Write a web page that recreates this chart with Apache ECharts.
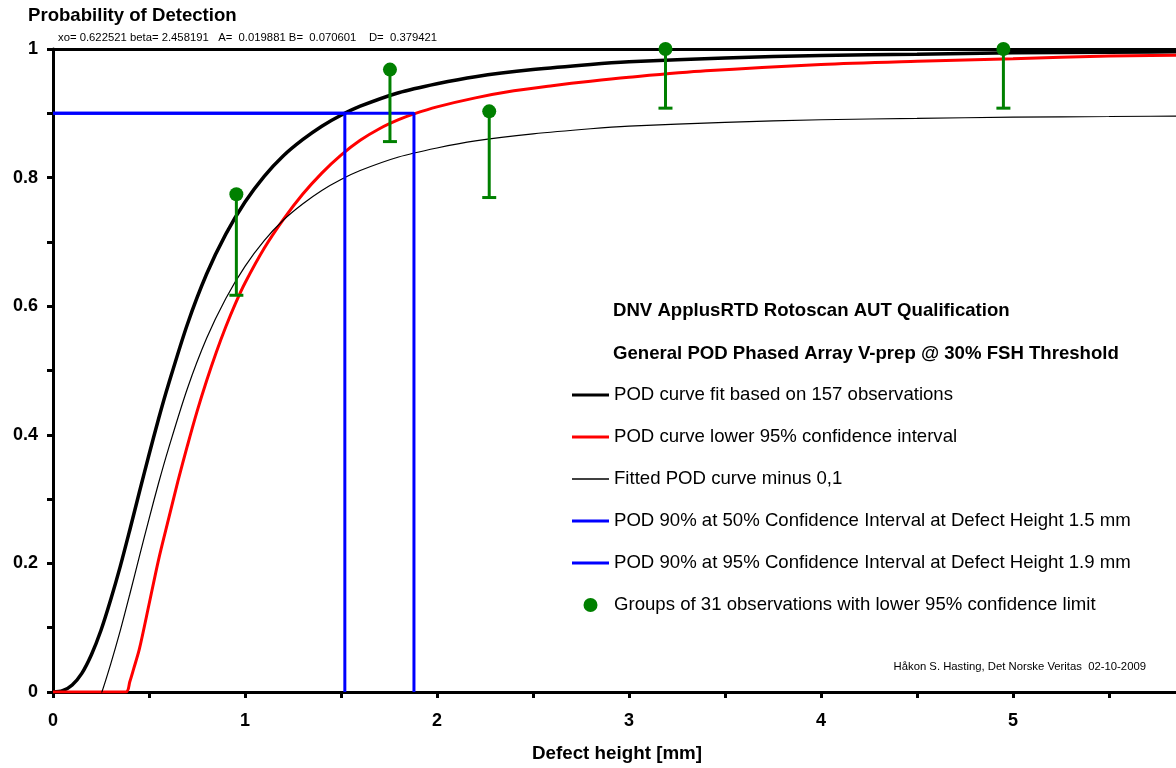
<!DOCTYPE html>
<html>
<head>
<meta charset="utf-8">
<script src="https://cdn.jsdelivr.net/npm/echarts@6/dist/echarts.min.js"></script>
<style>
  html, body { margin: 0; padding: 0; background: #ffffff; }
  #chart { width: 1176px; height: 768px; }
</style>
</head>
<body>
<div id="chart"></div>
<script>
const FONT = '"Liberation Sans", Arial, Helvetica, sans-serif';
const GREEN = '#008000';
const BLUE = '#0000ff';
const RED = '#ff0000';

// Fitted POD curve (defect height in mm -> probability of detection)
const fitHeights = [0, 0.05, 0.1, 0.15, 0.2, 0.25, 0.3, 0.35, 0.4, 0.45, 0.5, 0.55, 0.6, 0.7, 0.8, 0.9,
  1.0, 1.1, 1.2, 1.3, 1.4, 1.5, 1.6, 1.8, 2.0, 2.2, 2.5, 2.8, 3.0, 3.5, 4.0, 4.5, 5.0, 5.5, 6.0];
const podFit = [0, 0.002, 0.011, 0.029, 0.058, 0.096, 0.143, 0.195, 0.252, 0.311, 0.369, 0.425, 0.477, 0.572, 0.650, 0.712,
  0.762, 0.802, 0.834, 0.859, 0.880, 0.897, 0.911, 0.932, 0.946, 0.957, 0.968, 0.976, 0.980, 0.986, 0.990, 0.992, 0.994, 0.995, 0.996];

// Fitted POD curve shifted down by 0.1
const minusHeights = [0.2, 0.25, 0.3, 0.35, 0.4, 0.45, 0.5, 0.55, 0.6, 0.7, 0.8, 0.9,
  1.0, 1.1, 1.2, 1.3, 1.4, 1.5, 1.6, 1.8, 2.0, 2.2, 2.5, 2.8, 3.0, 3.5, 4.0, 4.5, 5.0, 5.5, 6.0];
const podFitMinus = [-0.042, -0.004, 0.043, 0.095, 0.152, 0.211, 0.269, 0.325, 0.377, 0.472, 0.550, 0.612,
  0.662, 0.702, 0.734, 0.759, 0.780, 0.797, 0.811, 0.832, 0.846, 0.857, 0.868, 0.876, 0.880, 0.886, 0.890, 0.892, 0.894, 0.895, 0.896];

// Lower 95% confidence bound of the POD curve
const lowerHeights = [0, 0.38, 0.4, 0.42, 0.45, 0.5, 0.55, 0.6, 0.65, 0.7, 0.75, 0.8, 0.85, 0.9, 0.95,
  1.0, 1.1, 1.2, 1.3, 1.4, 1.5, 1.6, 1.7, 1.8, 1.88, 2.0, 2.2, 2.4, 2.6, 2.8, 3.0, 3.4, 4.0, 4.5, 5.0, 5.5, 6.0];
const podLower95 = [0, 0, 0.016, 0.036, 0.067, 0.136, 0.206, 0.267, 0.327, 0.383, 0.436, 0.484, 0.528, 0.568, 0.604,
  0.636, 0.690, 0.735, 0.774, 0.807, 0.835, 0.858, 0.876, 0.890, 0.899, 0.910, 0.924, 0.935, 0.943, 0.950, 0.956, 0.966, 0.976, 0.981, 0.985, 0.989, 0.991];

// POD 90% defect heights
const pod90 = 0.9;
const height90at50 = 1.52;
const height90at95 = 1.88;

// Grouped observations (31 per group): mean height, observed POD, lower 95% limit
const groupHeights = [0.955, 1.755, 2.272, 3.19, 4.95];
const groupPOD = [0.774, 0.968, 0.903, 1.0, 1.0];
const groupLower = [0.617, 0.856, 0.769, 0.908, 0.908];

// Axis ticks
const xTickStep = 0.5;
const yTickStep = 0.1;

const zip = (xs, ys) => xs.map((x, i) => [x, ys[i]]);

const names = {
  fit: 'POD curve fit based on 157 observations',
  lower: 'POD curve lower 95% confidence interval',
  minus: 'Fitted POD curve minus 0,1',
  h50: 'POD 90% at 50% Confidence Interval at Defect Height ' + height90at50.toFixed(1) + ' mm',
  h95: 'POD 90% at 95% Confidence Interval at Defect Height ' + height90at95.toFixed(1) + ' mm',
  groups: 'Groups of 31 observations with lower 95% confidence limit'
};

// Legend icons: plain horizontal strokes
const thickLineIcon = 'path://M0,0 L37,0 L37,3 L0,3 Z';
const thinLineIcon = 'path://M0,0 L37,0 L37,1.5 L0,1.5 Z';

const chart = echarts.init(document.getElementById('chart'), null, { renderer: 'canvas' });

const axisLine = { show: true, lineStyle: { color: '#000', width: 3 } };
const axisTick = { show: true, inside: false, length: 6, lineStyle: { color: '#000', width: 3 } };
const boldLabel = { color: '#000', fontFamily: FONT, fontWeight: 'bold', fontSize: 18 };

const option = {
  backgroundColor: '#ffffff',
  animation: false,
  textStyle: { fontFamily: FONT },
  // the x axis runs on to 6 mm, just past the right edge of the canvas
  grid: { left: 53, top: 49, width: 1152, height: 643, containLabel: false, outerBoundsMode: 'none' },
  xAxis: [
    {
      type: 'value', min: 0, max: 6, interval: xTickStep,
      name: 'Defect height [mm]', nameLocation: 'middle', nameGap: 52,
      // right padding nudges the centred title towards the visible middle of the axis
      nameTextStyle: Object.assign({}, boldLabel, { fontSize: 18.8, padding: [0, 24, 0, 0] }),
      axisLine: axisLine, axisTick: axisTick,
      axisLabel: Object.assign({ margin: 20, formatter: v => (Math.abs(v - Math.round(v)) < 1e-9 ? String(Math.round(v)) : '') }, boldLabel),
      splitLine: { show: false }
    },
    {
      type: 'value', position: 'top', min: 0, max: 6,
      axisLine: axisLine, axisTick: { show: false }, axisLabel: { show: false }, splitLine: { show: false }
    }
  ],
  yAxis: {
    type: 'value', min: 0, max: 1, interval: yTickStep,
    axisLine: axisLine, axisTick: axisTick,
    axisLabel: Object.assign({ margin: 15, formatter: v => (Math.round(v * 10) % 2 === 0 ? String(+v.toFixed(1)) : '') }, boldLabel),
    splitLine: { show: false }
  },
  legend: {
    orient: 'vertical', left: 572, top: 385, padding: 0,
    itemWidth: 37, itemHeight: 14, itemGap: 22,
    selectedMode: false,
    textStyle: { color: '#000', fontFamily: FONT, fontSize: 18.6, lineHeight: 20 },
    data: [
      { name: names.fit, icon: thickLineIcon },
      { name: names.lower, icon: thickLineIcon },
      { name: names.minus, icon: thinLineIcon },
      { name: names.h50, icon: thickLineIcon },
      { name: names.h95, icon: thickLineIcon },
      { name: names.groups, icon: 'circle' }
    ]
  },
  graphic: [
    { type: 'text', left: 28, top: 6, style: { text: 'Probability of Detection', fill: '#000', font: 'bold 18.6px ' + FONT } },
    { type: 'text', left: 58, top: 32, style: { text: 'xo= 0.622521 beta= 2.458191   A=  0.019881 B=  0.070601    D=  0.379421', fill: '#000', font: '11.3px ' + FONT } },
    { type: 'text', left: 613, top: 301, style: { text: 'DNV ApplusRTD Rotoscan AUT Qualification', fill: '#000', font: 'bold 18.6px ' + FONT } },
    { type: 'text', left: 613, top: 344, style: { text: 'General POD Phased Array V-prep @ 30% FSH Threshold', fill: '#000', font: 'bold 18.6px ' + FONT } },
    { type: 'text', right: 30, top: 661, style: { text: 'Håkon S. Hasting, Det Norske Veritas  02-10-2009', fill: '#000', font: '11.3px ' + FONT, textAlign: 'right' } }
  ],
  series: [
    {
      name: names.fit, type: 'line', data: zip(fitHeights, podFit),
      smooth: 0.3, symbol: 'none', clip: true,
      lineStyle: { color: '#000', width: 3.5 }, itemStyle: { color: '#000' }, z: 3
    },
    {
      name: names.lower, type: 'line', data: zip(lowerHeights, podLower95),
      smooth: 0.3, symbol: 'none', clip: true,
      lineStyle: { color: RED, width: 3 }, itemStyle: { color: RED }, z: 3
    },
    {
      name: names.minus, type: 'line', data: zip(minusHeights, podFitMinus),
      smooth: 0.3, symbol: 'none', clip: true,
      lineStyle: { color: '#000', width: 1.2 }, itemStyle: { color: '#000' }, z: 3
    },
    {
      name: names.h50, type: 'line',
      data: [[0, pod90], [height90at50, pod90], [height90at50, 0]],
      symbol: 'none', lineStyle: { color: BLUE, width: 3 }, itemStyle: { color: BLUE }, z: 4
    },
    {
      name: names.h95, type: 'line',
      data: [[0, pod90], [height90at95, pod90], [height90at95, 0]],
      symbol: 'none', lineStyle: { color: BLUE, width: 3 }, itemStyle: { color: BLUE }, z: 4
    },
    {
      name: 'errorBars', type: 'custom', z: 5,
      data: groupHeights.map((h, i) => [h, groupPOD[i], groupLower[i]]),
      renderItem: (params, api) => {
        const top = api.coord([api.value(0), api.value(1)]);
        const bot = api.coord([api.value(0), api.value(2)]);
        const style = { stroke: GREEN, lineWidth: 3 };
        return {
          type: 'group',
          children: [
            { type: 'line', shape: { x1: top[0], y1: top[1], x2: bot[0], y2: bot[1] }, style: style },
            { type: 'line', shape: { x1: bot[0] - 7, y1: bot[1], x2: bot[0] + 7, y2: bot[1] }, style: style }
          ]
        };
      }
    },
    {
      name: names.groups, type: 'scatter', z: 6, clip: false,
      data: zip(groupHeights, groupPOD),
      symbol: 'circle', symbolSize: 14,
      itemStyle: { color: GREEN, opacity: 1 }
    }
  ]
};

chart.setOption(option);
</script>
</body>
</html>
